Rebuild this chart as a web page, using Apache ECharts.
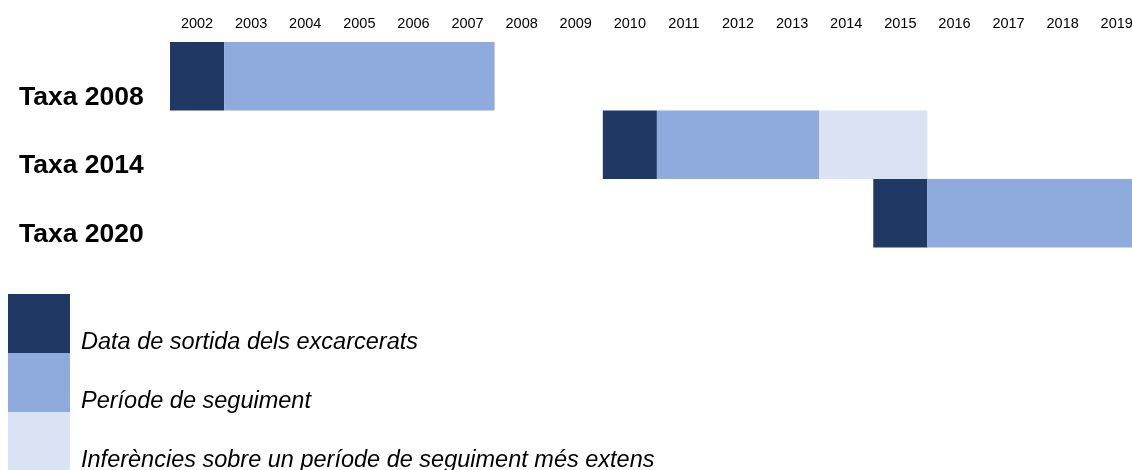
<!DOCTYPE html>
<html>
<head>
<meta charset="utf-8">
<script src="https://cdn.jsdelivr.net/npm/echarts@6/dist/echarts.min.js"></script>
<style>
html,body{margin:0;padding:0;background:#fff;}
#chart{width:1132px;height:470px;}
</style>
</head>
<body>
<div id="chart"></div>
<script>
// ---- data ----
const categories = ['Taxa 2008', 'Taxa 2014', 'Taxa 2020'];
const yearLabels = ['2002','2003','2004','2005','2006','2007','2008','2009','2010','2011','2012','2013','2014','2015','2016','2017','2018','2019'];
const releaseStart = [2002, 2010, 2015];     // year the release period starts
const releaseYears = [1, 1, 1];              // Data de sortida dels excarcerats
const followYears = [5, 3, 4];               // Període de seguiment
const inferenceYears = [0, 2, 0];            // Inferències sobre un període de seguiment més extens
const seriesNames = ['Data de sortida dels excarcerats', 'Període de seguiment', 'Inferències sobre un període de seguiment més extens'];
const colors = ['#203864', '#8faadc', '#dae3f3'];

const chart = echarts.init(document.getElementById('chart'), null, {renderer: 'canvas'});
const col = 54.1;
const option = {
  animation: false,
  backgroundColor: '#ffffff',
  grid: {left: 170, top: 42, width: col * yearLabels.length, height: 205.5, outerBoundsMode: 'none', containLabel: false},
  legend: {
    data: seriesNames,
    orient: 'vertical',
    left: 8, top: 286.5,
    height: 220,
    padding: 0,
    itemGap: -15,
    itemWidth: 62, itemHeight: 59,
    icon: 'rect',
    selectedMode: false,
    formatter: '\n{name}',
    textStyle: {
      fontFamily: 'Liberation Sans, Arial, sans-serif',
      fontStyle: 'italic',
      fontSize: 23.5,
      lineHeight: 37,
      color: '#000',
      padding: [0, 0, 0, 6]
    }
  },
  xAxis: [
    {type: 'value', min: 2002, max: 2002 + yearLabels.length, show: false},
    {type: 'category', position: 'top', data: yearLabels, boundaryGap: true,
     axisLine: {show: false}, axisTick: {show: false}, splitLine: {show: false},
     axisLabel: {color: '#000', fontSize: 14.5, fontFamily: "'Liberation Sans Narrow', 'Arial Narrow', 'Liberation Sans', sans-serif",
       verticalAlign: 'middle', margin: 18, interval: 0}}
  ],
  yAxis: {
    type: 'category', data: categories, inverse: true,
    axisLine: {show: false}, axisTick: {show: false}, splitLine: {show: false},
    axisLabel: {color: '#000', fontSize: 26.5, fontWeight: 'bold', fontFamily: 'Liberation Sans, Arial, sans-serif',
      align: 'left', margin: 151, verticalAlign: 'top', lineHeight: 42}
  },
  series: [
    {name: 'base', type: 'bar', stack: 's', data: releaseStart, itemStyle: {color: 'rgba(0,0,0,0)'},
     barWidth: '100%', barCategoryGap: '0%', silent: true},
    {name: seriesNames[0], type: 'bar', stack: 's', data: releaseYears, itemStyle: {color: colors[0]}, barWidth: '100%'},
    {name: seriesNames[1], type: 'bar', stack: 's', data: followYears, itemStyle: {color: colors[1]}, barWidth: '100%'},
    {name: seriesNames[2], type: 'bar', stack: 's', data: inferenceYears, itemStyle: {color: colors[2]}, barWidth: '100%'}
  ]
};
chart.setOption(option);
</script>
</body>
</html>
